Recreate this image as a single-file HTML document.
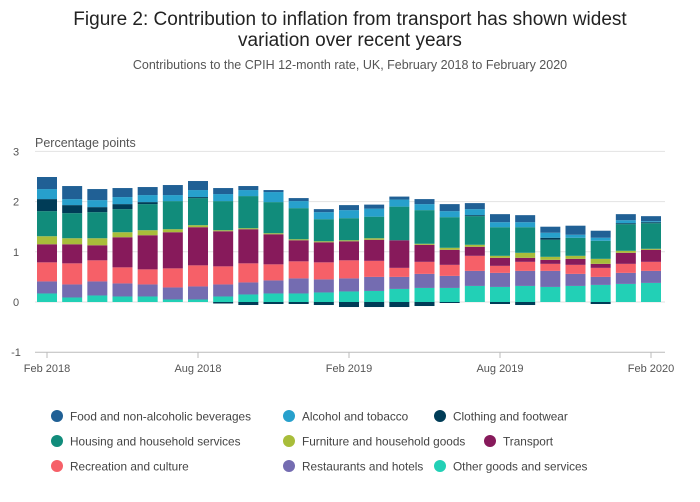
<!DOCTYPE html>
<html><head><meta charset="utf-8"><style>
body{margin:0;background:#fff;font-family:"Liberation Sans",sans-serif;}
svg{display:block}
</style></head><body>
<svg width="700" height="502" id="c">
<text x="350" y="25" text-anchor="middle" font-size="19" fill="#222">Figure 2: Contribution to inflation from transport has shown widest</text>
<text x="350" y="46" text-anchor="middle" font-size="19" fill="#222">variation over recent years</text>
<text x="350" y="69" text-anchor="middle" font-size="12.5" fill="#555">Contributions to the CPIH 12-month rate, UK, February 2018 to February 2020</text>
<text x="35" y="147" font-size="12.5" fill="#555">Percentage points</text>
<g id="grid"></g><g id="bars"></g><g id="xax"></g><g id="legend"></g>
</svg>
<script>
const months=["Feb 2018","Mar 2018","Apr 2018","May 2018","Jun 2018","Jul 2018","Aug 2018","Sep 2018","Oct 2018","Nov 2018","Dec 2018","Jan 2019","Feb 2019","Mar 2019","Apr 2019","May 2019","Jun 2019","Jul 2019","Aug 2019","Sep 2019","Oct 2019","Nov 2019","Dec 2019","Jan 2020","Feb 2020"];
const xTickLabels=["Feb 2018","Aug 2018","Feb 2019","Aug 2019","Feb 2020"];
const yTicks=[-1,0,1,2,3];
const seriesNames=["Other goods and services","Restaurants and hotels","Recreation and culture","Transport","Furniture and household goods","Housing and household services","Clothing and footwear","Alcohol and tobacco","Food and non-alcoholic beverages"];
const colors=["#22d0b6","#746cb1","#f66068","#871a5b","#a8bd3a","#118c7b","#003c57","#27a0cc","#206095"];
const other=[0.17,0.09,0.13,0.11,0.11,0.05,0.05,0.11,0.15,0.17,0.17,0.19,0.21,0.22,0.26,0.28,0.28,0.32,0.3,0.32,0.3,0.32,0.34,0.36,0.38];
const restaurants=[0.24,0.26,0.28,0.26,0.24,0.24,0.26,0.24,0.24,0.26,0.3,0.26,0.26,0.28,0.24,0.28,0.24,0.3,0.28,0.3,0.32,0.24,0.16,0.22,0.24];
const recreation=[0.38,0.42,0.42,0.32,0.3,0.38,0.42,0.36,0.38,0.32,0.34,0.34,0.36,0.32,0.18,0.24,0.22,0.3,0.14,0.18,0.14,0.18,0.18,0.18,0.18];
const transport=[0.36,0.38,0.3,0.6,0.68,0.72,0.76,0.7,0.68,0.6,0.42,0.4,0.38,0.42,0.55,0.34,0.3,0.18,0.16,0.08,0.08,0.12,0.08,0.22,0.24];
const furniture=[0.16,0.12,0.14,0.1,0.1,0.06,0.04,0.02,0.02,0.02,0.02,0.02,0.02,0.03,0,0.02,0.04,0.04,0.04,0.1,0.06,0.06,0.1,0.04,0.02];
const housing=[0.5,0.5,0.52,0.46,0.52,0.56,0.54,0.58,0.64,0.62,0.62,0.44,0.44,0.43,0.67,0.67,0.61,0.57,0.57,0.51,0.34,0.36,0.36,0.53,0.51];
const clothing=[0.24,0.16,0.1,0.1,0.04,0,0.02,-0.03,-0.06,-0.04,-0.04,-0.06,-0.1,-0.1,-0.1,-0.08,-0.02,0.02,-0.04,-0.06,0.04,0,-0.04,0.02,0.02];
const alcohol=[0.2,0.12,0.14,0.14,0.14,0.12,0.14,0.14,0.12,0.2,0.14,0.14,0.16,0.16,0.14,0.12,0.12,0.12,0.1,0.1,0.1,0.06,0.06,0.06,0.02];
const food=[0.24,0.26,0.22,0.18,0.16,0.2,0.18,0.12,0.08,0.04,0.06,0.06,0.1,0.08,0.06,0.1,0.14,0.12,0.16,0.14,0.12,0.18,0.14,0.12,0.1];
const series=[other,restaurants,recreation,transport,furniture,housing,clothing,alcohol,food];
const NS="http://www.w3.org/2000/svg";
const X0=47,X1=651,Y0=302,UNIT=50.2;
const xs=i=>X0+(X1-X0)*i/(months.length-1);
const ys=v=>Y0-v*UNIT;
function mk(t,a,p){const e=document.createElementNS(NS,t);for(const k in a)e.setAttribute(k,a[k]);p.appendChild(e);return e;}
const grid=document.getElementById('grid');
yTicks.forEach(v=>{
 const l=mk('line',{x1:35,x2:665,y1:ys(v),y2:ys(v),stroke:v===-1?'#bbb':'#e2e2e2','stroke-width':1},grid);
 
 
 const t=mk('text',{x:16,y:ys(v)+4,'font-size':11,fill:'#555','text-anchor':'middle'},grid);
 t.textContent=v;
 
 
});
const bars=document.getElementById('bars');
months.forEach((m,i)=>{
 let pos=0,neg=0;
 series.forEach((s,k)=>{
  const v=s[i]; if(!v)return;
  let top,bot;
  if(v>0){bot=pos;pos+=v;top=pos;}else{top=neg;neg+=v;bot=neg;}
  const r=mk('rect',{x:xs(i)-10,width:20,y:ys(top),height:Math.max(0,ys(bot)-ys(top)),fill:colors[k]},bars);
  
  
 });
});
const xax=document.getElementById('xax');
xTickLabels.forEach(lbl=>{
 const i=months.indexOf(lbl);
 const tk=mk('line',{x1:xs(i),x2:xs(i),y1:352,y2:358,stroke:'#bbb'},xax);
 
 
 const t=mk('text',{x:xs(i),y:372,'font-size':11,fill:'#555','text-anchor':'middle'},xax);
 t.textContent=lbl;
 
 
});
const leg=document.getElementById('legend');
const legOrder=[8,7,6,5,4,3,2,1,0];
const colX=[57,289,440],rowY=[416,441,466];
legOrder.forEach((k,j)=>{
 let cx=colX[j%3];const cy=rowY[Math.floor(j/3)];
 if(k===3)cx=490;
 const g=mk('g',{},leg);
 
 
 mk('circle',{cx:cx,cy:cy,r:6,fill:colors[k]},g);
 const t=mk('text',{x:cx+13,y:cy+4.5,'font-size':11.8,fill:'#444'},g);
 t.textContent=seriesNames[k];
});
</script>
</body></html>
